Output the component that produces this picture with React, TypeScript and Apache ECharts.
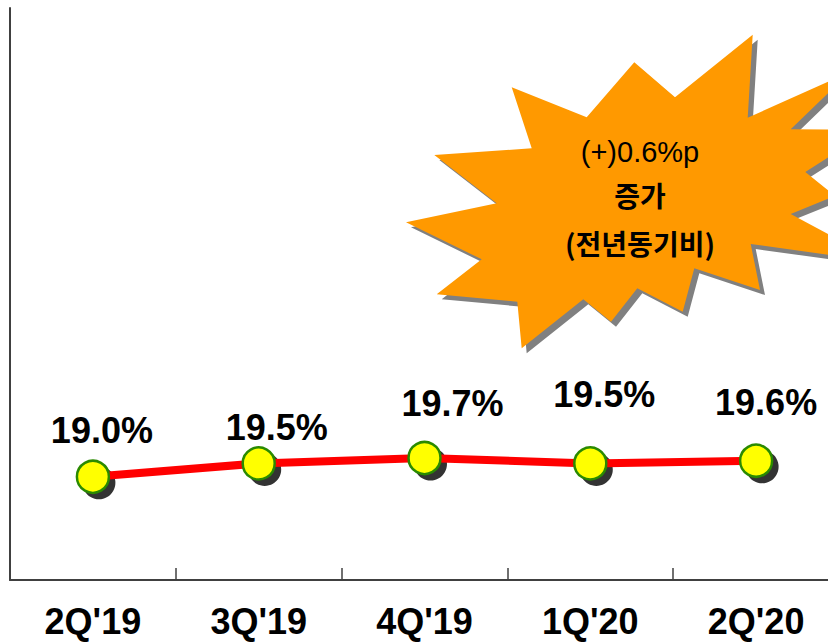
import React, { useEffect, useRef } from "react";
import * as echarts from "echarts";

const categories = ["2Q'19", "3Q'19", "4Q'19", "1Q'20", "2Q'20"];
const ratioValues = [19.0, 19.5, 19.7, 19.5, 19.6];
const labelTexts = ["19.0%", "19.5%", "19.7%", "19.5%", "19.6%"];
const calloutLines = ["(+)0.6%p", "증가", "(전년동기비)"];

// layout constants (label offsets relative to marker centre)
const labelOffsets: [number, number][] = [
  [9, -46],
  [18, -36],
  [28, -55],
  [14, -69],
  [10, -58],
];

const burst: [number, number][] = [
  [511.7, 87.3], [586.7, 117.3], [634.3, 62.3], [675, 97.3], [752.7, 34.7],
  [747.7, 117.7], [850, 72], [790.7, 129.3], [872, 129.5], [805.3, 172],
  [835, 196], [790.7, 214], [880, 262], [750.7, 244], [760, 290],
  [694.3, 268.3], [682.7, 311.7], [637.3, 288.3], [611, 321.7], [583.3, 299.3],
  [521.7, 348.3], [517.3, 301.7], [436.7, 294.3], [481.7, 259.3], [406, 222.3],
  [496.7, 203.3], [434.3, 155], [531.7, 148.3],
];

export default function App() {
  const ref = useRef<HTMLDivElement>(null);
  useEffect(() => {
    if (!ref.current) return;
    const chart = echarts.init(ref.current, null, { renderer: "svg" });
    const shadowPts = burst.map(([x, y]) => [x + 5, y + 5]);
    chart.setOption({
      animation: false,
      backgroundColor: "#ffffff",
      grid: { left: 10, top: 8, width: 829, height: 572, containLabel: false },
      xAxis: {
        type: "category",
        data: categories,
        boundaryGap: true,
        axisLine: { show: true, lineStyle: { color: "#404040", width: 2 } },
        axisTick: { show: true, inside: true, length: 12, alignWithLabel: false, lineStyle: { color: "#404040", width: 1.5 } },
        axisLabel: {
          fontFamily: "Liberation Sans",
          fontWeight: "bold",
          fontSize: 36,
          lineHeight: 36,
          color: "#000",
          margin: 23,
        },
        splitLine: { show: false },
      },
      yAxis: {
        type: "value",
        min: 15.15,
        max: 36.49,
        axisLine: { show: true, lineStyle: { color: "#404040", width: 2 } },
        axisTick: { show: false },
        axisLabel: { show: false },
        splitLine: { show: false },
      },
      series: [
        {
          type: "scatter",
          data: ratioValues,
          symbol: "circle",
          symbolSize: 33,
          symbolOffset: [6, 6],
          itemStyle: { color: "#000000" },
          z: 1,
          silent: true,
        },
        {
          type: "line",
          data: ratioValues.map((v, i) => ({
            value: v,
            label: {
              show: true,
              position: "inside",
              offset: labelOffsets[i],
              formatter: labelTexts[i],
            },
          })),
          z: 2,
          symbol: "circle",
          symbolSize: 32,
          lineStyle: { color: "#ff0000", width: 8 },
          itemStyle: { color: "#ffff00", borderColor: "#2a8a00", borderWidth: 2.5 },
          label: {
            show: true,
            fontFamily: "Liberation Sans",
            fontWeight: "bold",
            fontSize: 36,
            color: "#000",
          },
        },
      ],
      graphic: [
        { type: "polygon", shape: { points: shadowPts }, style: { fill: "#808080" }, z: 10 },
        { type: "polygon", shape: { points: burst }, style: { fill: "#ff9900" }, z: 11 },
        {
          type: "text", x: 640, y: 152, z: 12,
          style: { text: calloutLines[0], fontFamily: "Liberation Sans", fontSize: 29, fontWeight: "normal", fill: "#000", align: "center", verticalAlign: "middle" },
        },
        {
          type: "text", x: 640, y: 195, z: 12,
          style: { text: calloutLines[1], fontFamily: "Noto Sans CJK KR", fontSize: 28, fontWeight: "bold", fill: "#000", align: "center", verticalAlign: "middle" },
        },
        {
          type: "text", x: 640, y: 243, z: 12,
          style: { text: calloutLines[2], fontFamily: "Noto Sans CJK KR", fontSize: 28, fontWeight: "bold", fill: "#000", align: "center", verticalAlign: "middle" },
        },
      ],
    });
    return () => chart.dispose();
  }, []);
  return (
    <div style={{ position: "fixed", left: 0, top: 0, width: 828, height: 642, overflow: "hidden" }}>
      <div ref={ref} style={{ width: 860, height: 642 }} />
    </div>
  );
}
